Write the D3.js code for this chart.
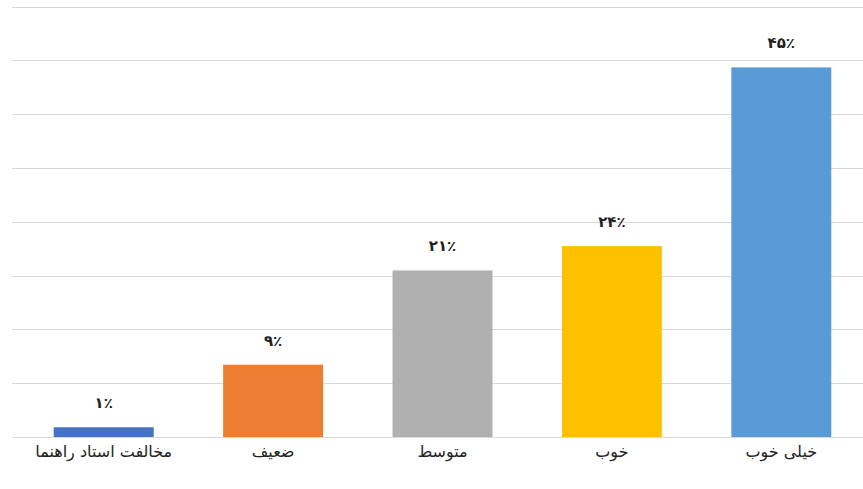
<!DOCTYPE html>
<html>
<head>
<meta charset="utf-8">
<script src="https://cdn.jsdelivr.net/npm/d3@7"></script>
<style>
  body { margin: 0; background: #fff; }
</style>
</head>
<body>
<script>
"use strict";

var width = 863,
    height = 489;

// categories left to right
const categories = ["مخالفت استاد راهنما", "ضعیف", "متوسط", "خوب", "خیلی خوب"];
// bar heights (percent)
const values = [1.2, 8.9, 20.5, 23.5, 45.5];
// data labels as printed
const valueLabels = ["۱٪", "۹٪", "۲۱٪", "۲۴٪", "۴۵٪"];
const colors = ["#4472C4", "#ED7D31", "#B0B0B0", "#FFC000", "#5B9BD5"];

const yMax = 53,
      gridCount = 8;

let svg = d3.select("body")
    .append("svg")
    .attr("width", width)
    .attr("height", height);

let x = d3.scaleBand()
    .domain(categories)
    .range([19, 866])
    .paddingInner(0.41)
    .paddingOuter(0.205);

let y = d3.scaleLinear()
    .domain([0, yMax])
    .range([437, 6.5]);

// gridlines, evenly spaced over the value axis
let grid = svg.append("g").attr("id", "grid");
grid.selectAll("line")
    .data(d3.range(gridCount + 1).map(i => i * yMax / gridCount))
    .enter()
    .append("line")
    .attr("x1", 12)
    .attr("x2", width)
    .attr("y1", d => Math.round(y(d)) + 0.5)
    .attr("y2", d => Math.round(y(d)) + 0.5)
    .attr("stroke", "#D9D9D9")
    .attr("stroke-width", 1.2);

// bars
let bars = svg.append("g").attr("id", "bars");
bars.selectAll("rect")
    .data(values)
    .enter()
    .append("rect")
    .attr("x", (d, i) => x(categories[i]))
    .attr("width", x.bandwidth())
    .attr("y", d => y(d))
    .attr("height", d => y(0) - y(d))
    .attr("fill", (d, i) => colors[i]);

// value labels
svg.append("g").attr("id", "labels")
    .selectAll("text")
    .data(values)
    .enter()
    .append("text")
    .attr("x", (d, i) => x(categories[i]) + x.bandwidth() / 2)
    .attr("y", d => y(d) - 19)
    .attr("text-anchor", "middle")
    .attr("font-family", "'DejaVu Sans', sans-serif")
    .attr("font-weight", "bold")
    .attr("font-size", 15)
    .attr("fill", "#222")
    .text((d, i) => valueLabels[i]);

// category axis
let xAxis = d3.axisBottom(x).tickSize(0).tickPadding(9);
let ax = svg.append("g")
    .attr("transform", "translate(0,437)")
    .call(xAxis);
ax.select(".domain").remove();
ax.selectAll("text")
    .attr("font-family", "'DejaVu Sans', sans-serif")
    .attr("font-size", 16)
    .attr("fill", "#222")
    .attr("direction", "rtl");
</script>
</body>
</html>
